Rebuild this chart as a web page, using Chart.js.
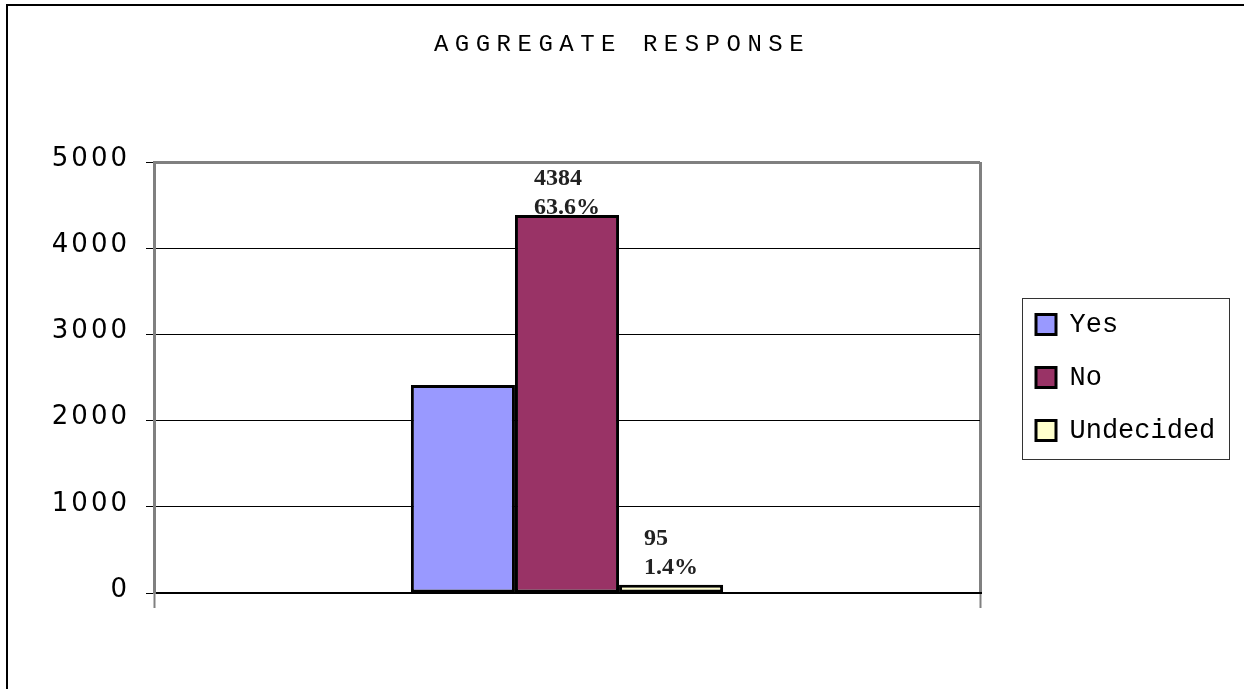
<!DOCTYPE html>
<html>
<head>
<meta charset="utf-8">
<script src="https://cdn.jsdelivr.net/npm/chart.js@4/dist/chart.umd.min.js"></script>
<style>
  html, body { margin: 0; padding: 0; background: #fff; }
  canvas { display: block; }
</style>
</head>
<body>
<canvas id="c" width="1244" height="689"></canvas>
<script>
// ---- data ----
const categories = [''];
const seriesNames = ['Yes', 'No', 'Undecided'];
const seriesValues = [2414, 4384, 95];
const seriesPercents = [35.0, 63.6, 1.4];
const showValueLabel = [false, true, true];
const seriesColors = ['#9999FF', '#993366', '#FFFFCC'];
const yTickValues = [0, 1000, 2000, 3000, 4000, 5000];
const yTickLabels = ['0', '1000', '2000', '3000', '4000', '5000'];
const chartTitle = 'AGGREGATE RESPONSE';

// outer frame of the chart sheet and the box around the legend
const framePlugin = {
  id: 'frames',
  afterDraw(chart) {
    const ctx = chart.ctx;
    ctx.save();
    ctx.strokeStyle = '#000';
    ctx.lineWidth = 2;
    ctx.strokeRect(7, 5, chart.width + 40, chart.height + 40);

    const hb = chart.legend.legendHitBoxes;
    if (hb && hb.length) {
      const left = Math.min(...hb.map(h => h.left)) - 14;
      const right = Math.max(...hb.map(h => h.left + h.width)) + 14;
      const top = Math.min(...hb.map(h => h.top)) - 13;
      const bottom = Math.max(...hb.map(h => h.top + h.height)) + 15;
      ctx.lineWidth = 1;
      ctx.strokeStyle = '#333';
      ctx.strokeRect(Math.round(left) + 0.5, Math.round(top) + 0.5,
                     Math.round(right - left), Math.round(bottom - top));
    }
    ctx.restore();
  }
};

// value + share labels above the bars
const valueLabelPlugin = {
  id: 'valueLabels',
  afterDatasetsDraw(chart) {
    const ctx = chart.ctx;
    ctx.save();
    ctx.letterSpacing = '0px';
    ctx.font = 'bold 24px "Liberation Serif"';
    ctx.fillStyle = '#222';
    ctx.textAlign = 'left';
    ctx.textBaseline = 'alphabetic';
    const lineGap = 29, capH = 17;
    seriesValues.forEach((v, i) => {
      if (!showValueLabel[i]) return;
      const bar = chart.getDatasetMeta(i).data[0];
      const lines = [String(v), seriesPercents[i].toFixed(1) + '%'];
      const w = Math.max(...lines.map(t => ctx.measureText(t).width));
      const left = bar.x - w / 2;
      let base = bar.y - 11;
      const top = base - lineGap - capH;
      const minTop = chart.chartArea.top + 6;
      if (top < minTop) base += minTop - top;
      ctx.fillText(lines[0], left, base - lineGap);
      ctx.fillText(lines[1], left, base);
    });
    ctx.restore();
  }
};

const chart = new Chart(document.getElementById('c'), {
  type: 'bar',
  data: {
    labels: categories,
    datasets: seriesNames.map((name, i) => ({
      label: name,
      data: [seriesValues[i]],
      backgroundColor: seriesColors[i],
      borderColor: '#000',
      borderWidth: 3,
      borderSkipped: false,
      categoryPercentage: 0.378,
      barPercentage: 1.0
    }))
  },
  options: {
    responsive: false,
    devicePixelRatio: 1,
    animation: false,
    layout: { padding: 0 },
    plugins: {
      title: {
        display: true,
        text: chartTitle,
        color: '#000',
        font: { family: 'Liberation Mono', size: 24, weight: 'normal' },
        padding: { top: 30, bottom: 103.2 }
      },
      legend: {
        position: 'right',
        fullSize: false,
        align: 'center',
        labels: {
          color: '#000',
          font: { family: 'Liberation Mono', size: 27 },
          boxWidth: 20,
          boxHeight: 20,
          padding: 26
        }
      },
      tooltip: { enabled: false }
    },
    scales: {
      x: {
        offset: true,
        afterFit: s => { s.height = 96; },
        border: { display: true, color: '#000', width: 2 },
        grid: {
          offset: true,
          color: '#808080',
          lineWidth: 3,
          tickLength: 15,
          tickColor: '#808080',
          tickWidth: 2
        },
        ticks: { display: false }
      },
      y: {
        min: 0,
        max: 5000,
        afterBuildTicks: s => { s.ticks = yTickValues.map(v => ({ value: v })); },
        afterFit: s => { s.width = 154; },
        border: { display: true, color: '#808080', width: 3 },
        grid: {
          color: c => (c.tick && c.tick.value === 5000 ? '#808080' : '#000'),
          lineWidth: c => (c.tick && c.tick.value === 5000 ? 3 : 1),
          tickColor: '#000',
          tickWidth: 1,
          tickLength: 8
        },
        ticks: {
          color: '#000',
          font: { family: 'DejaVu Sans', size: 26 },
          padding: 16,
          labelOffset: -3,
          callback: (value) => yTickLabels[yTickValues.indexOf(value)]
        }
      },
      gap: {
        type: 'linear',
        position: 'right',
        display: true,
        grid: { display: false },
        border: { display: false },
        ticks: { display: false },
        afterFit: s => { s.width = 30; }
      }
    }
  },
  plugins: [valueLabelPlugin, framePlugin]
});

// letter-spaced text for the title and the value axis
function spaced(obj, method, spacing) {
  const orig = obj[method];
  obj[method] = function (...args) {
    const ctx = this.ctx;
    const prev = ctx.letterSpacing;
    ctx.letterSpacing = spacing;
    try { return orig.apply(this, args); } finally { ctx.letterSpacing = prev; }
  };
}
spaced(chart.titleBlock, 'draw', '6.5px');
spaced(chart.scales.y, 'draw', '3px');

// fixed legend column width
const legendFit = chart.legend.fit;
chart.legend.fit = function () { legendFit.call(this); this.width = 234; };

chart.update();
</script>
</body>
</html>
